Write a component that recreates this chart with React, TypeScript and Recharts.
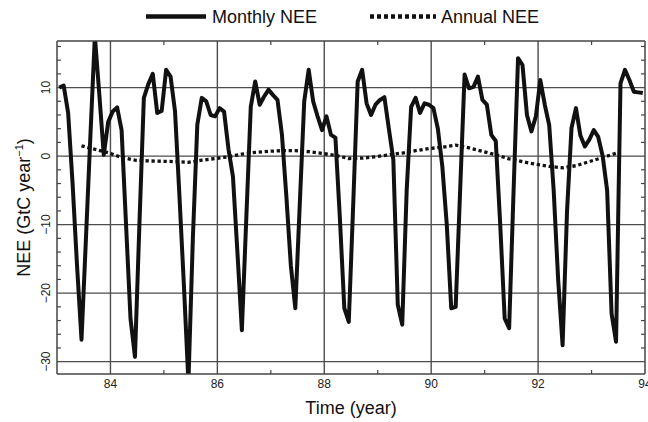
import React from 'react';
import { LineChart, Line, XAxis, YAxis, CartesianGrid } from 'recharts';

// monthly samples start in Jan 1983, one value per month (GtC/yr)
const START_YEAR = 83;
const monthlyNee = [
  10.0, 10.3, 6.3, -4.0, -16.0, -26.8, -12.0, 3.0, 17.5, 9.0, 0.2, 5.0,
  6.5, 7.1, 3.8, -10.0, -23.7, -29.3, -10.0, 8.5, 10.5, 12.0, 6.3, 6.6,
  12.6, 11.6, 6.5, -6.0, -19.0, -33.0, -12.0, 4.6, 8.5, 8.0, 6.0, 5.8,
  7.0, 6.5, 1.0, -3.0, -14.0, -25.4, -9.0, 7.2, 10.9, 7.5, 8.7, 9.7,
  8.9, 8.2, 3.1, -6.0, -16.0, -22.2, -7.0, 8.0, 12.6, 8.0, 5.8, 3.8,
  5.8, 3.1, 2.7, -9.0, -22.2, -24.2, -7.0, 10.9, 12.6, 7.7, 6.0, 7.5,
  8.2, 8.6, 4.0, -0.5, -21.7, -24.6, -5.0, 7.2, 8.5, 6.3, 7.7, 7.5,
  7.0, 4.0, -1.5, -10.0, -22.2, -22.0, -5.0, 11.9, 9.9, 10.1, 11.6, 8.2,
  7.5, 3.1, 2.2, -10.0, -23.7, -25.1, -5.0, 14.3, 13.3, 6.0, 3.6, 5.8,
  11.1, 7.5, 4.5, -5.0, -18.0, -27.6, -8.0, 4.1, 7.0, 3.0, 1.4, 2.4,
  3.8, 2.8, 0.0, -5.0, -23.0, -27.1, 10.6, 12.6, 11.1, 9.4, 9.3, 9.2,
];

// running annual mean, read every 3rd month starting at month 5
const ANNUAL_FIRST_MONTH = 5;
const ANNUAL_STEP = 3;
const annualNee = [
  1.5, 1.0, 0.5, -0.2, -0.6, -0.7, -0.75, -0.8, -0.9, -0.6, -0.35, -0.1,
  0.3, 0.55, 0.7, 0.8, 0.8, 0.65, 0.4, 0.1, -0.35, -0.3, -0.1, 0.2,
  0.45, 0.8, 1.1, 1.3, 1.6, 1.2, 0.7, 0.2, -0.4, -0.8, -1.2, -1.5,
  -1.7, -1.4, -0.8, -0.2, 0.4,
];

const X_DOMAIN = [83, 94];
const Y_DOMAIN = [-31.8, 16.8];
const xTicks = [84, 85, 86, 87, 88, 89, 90, 91, 92, 93, 94];
const xMinorTicks = [85, 87, 89, 91, 93];
const xGridLines = [84, 86, 88, 90, 92];
const yTicks = [-30, -28, -26, -24, -22, -20, -18, -16, -14, -12, -10, -8, -6, -4, -2, 0, 2, 4, 6, 8, 10, 12, 14, 16];
const yGridLines = [-30, -20, -10, 0, 10];

const FONT = '"Liberation Sans", Arial, Helvetica, sans-serif';
const INK = '#111';
const FRAME = '#444';
const GRID = '#4d4d4d';
const TICK_LEN = 4;

const chartData = monthlyNee.map((v, i) => {
  const k = i - ANNUAL_FIRST_MONTH;
  const annual = k >= 0 && k % ANNUAL_STEP === 0 ? annualNee[k / ANNUAL_STEP] ?? null : null;
  return { t: START_YEAR + (i + 0.5) / 12, monthly: v, annual };
});

const renderBottomTick = (props: any) => {
  const { x, y, payload } = props;
  if (payload.value % 2 === 0) {
    return (
      <text x={x} y={y + 14} textAnchor="middle" fontSize={12} fontFamily={FONT} fill="#222">
        {payload.value}
      </text>
    );
  }
  return <line x1={x} y1={y} x2={x} y2={y - TICK_LEN} stroke={FRAME} strokeWidth={1.2} />;
};

const renderTopTick = (props: any) => {
  const { x, y } = props;
  return <line x1={x} y1={y} x2={x} y2={y + TICK_LEN} stroke={FRAME} strokeWidth={1.2} />;
};

const renderLeftTick = (props: any) => {
  const { x, y, payload } = props;
  if (payload.value % 10 === 0) {
    return (
      <text
        transform={`translate(${x - 7.5},${y}) rotate(-90)`}
        textAnchor="middle"
        fontSize={12}
        fontFamily={FONT}
        fill="#222"
      >
        {payload.value === 0 ? '0' : payload.value < 0 ? `\u2212${Math.abs(payload.value)}` : payload.value}
      </text>
    );
  }
  return <line x1={x} y1={y} x2={x + TICK_LEN} y2={y} stroke={FRAME} strokeWidth={1.2} />;
};

const renderRightTick = (props: any) => {
  const { x, y, payload } = props;
  if (payload.value % 10 === 0) return <g />;
  return <line x1={x} y1={y} x2={x - TICK_LEN} y2={y} stroke={FRAME} strokeWidth={1.2} />;
};

const YTitle = (props: any) => {
  const vb = props.viewBox || { x: 0, y: 41, width: 57, height: 333 };
  const cx = vb.x + 30;
  const cy = vb.y + vb.height / 2;
  return (
    <text
      transform={`translate(${cx},${cy}) rotate(-90)`}
      textAnchor="middle"
      fontSize={18}
      fontFamily={FONT}
      fill="#111"
    >
      NEE (GtC year
      <tspan dy={-7} fontSize={11}>{'\u22121'}</tspan>
      <tspan dy={7}>)</tspan>
    </text>
  );
};

const XTitle = (props: any) => {
  const vb = props.viewBox || { x: 57, y: 374, width: 588, height: 48 };
  return (
    <text x={vb.x + vb.width / 2} y={vb.y + 40} textAnchor="middle" fontSize={18} fontFamily={FONT} fill="#111">
      Time (year)
    </text>
  );
};

const LegendOverlay = () => (
  <svg width={648} height={34} style={{ position: 'absolute', left: 0, top: 0 }}>
    <line x1={146} y1={16.5} x2={206} y2={16.5} stroke={INK} strokeWidth={4.5} />
    <text x={212} y={23} fontSize={18} fontFamily={FONT} fill="#111">
      Monthly NEE
    </text>
    <line x1={370} y1={16.5} x2={436} y2={16.5} stroke={INK} strokeWidth={4.5} strokeDasharray="4 3" />
    <text x={441} y={23} fontSize={18} fontFamily={FONT} fill="#111">
      Annual NEE
    </text>
  </svg>
);

export default function App() {
  return (
    <div style={{ position: 'absolute', left: 0, top: 0, width: 648, height: 422, background: '#fff' }}>
      <div style={{ position: 'absolute', left: 0, top: 0 }}>
        <LineChart width={648} height={422} data={chartData} margin={{ top: 40, right: 0, bottom: 0, left: 0 }}>
          <CartesianGrid
            xAxisId="x"
            yAxisId="y"
            verticalValues={xGridLines}
            horizontalValues={yGridLines}
            stroke={GRID}
            strokeWidth={1.4}
          />
          <XAxis
            xAxisId="x"
            dataKey="t"
            type="number"
            domain={X_DOMAIN}
            ticks={xTicks}
            interval={0}
            allowDataOverflow
            tickSize={0}
            tickMargin={0}
            tickLine={false}
            axisLine={{ stroke: FRAME, strokeWidth: 1.5 }}
            tick={renderBottomTick}
            height={48}
            label={<XTitle />}
          />
          <XAxis
            xAxisId="top"
            orientation="top"
            dataKey="t"
            type="number"
            domain={X_DOMAIN}
            ticks={xMinorTicks}
            interval={0}
            allowDataOverflow
            tickSize={0}
            tickMargin={0}
            tickLine={false}
            axisLine={{ stroke: FRAME, strokeWidth: 1.5 }}
            tick={renderTopTick}
            height={1}
          />
          <YAxis
            yAxisId="y"
            type="number"
            domain={Y_DOMAIN}
            ticks={yTicks}
            interval={0}
            allowDataOverflow
            tickSize={0}
            tickMargin={0}
            tickLine={false}
            axisLine={{ stroke: FRAME, strokeWidth: 1.5 }}
            tick={renderLeftTick}
            width={57}
            label={<YTitle />}
          />
          <YAxis
            yAxisId="right"
            orientation="right"
            type="number"
            domain={Y_DOMAIN}
            ticks={yTicks}
            interval={0}
            allowDataOverflow
            tickSize={0}
            tickMargin={0}
            tickLine={false}
            axisLine={{ stroke: FRAME, strokeWidth: 1.5 }}
            tick={renderRightTick}
            width={3}
          />
          <Line
            xAxisId="x"
            yAxisId="y"
            dataKey="annual"
            type="linear"
            stroke={INK}
            strokeWidth={3.3}
            strokeDasharray="3.3 2.7"
            connectNulls
            dot={false}
            activeDot={false}
            isAnimationActive={false}
          />
          <Line
            xAxisId="x"
            yAxisId="y"
            dataKey="monthly"
            type="linear"
            stroke={INK}
            strokeWidth={4}
            strokeLinejoin="round"
            dot={false}
            activeDot={false}
            isAnimationActive={false}
          />
        </LineChart>
      </div>
      <LegendOverlay />
    </div>
  );
}
